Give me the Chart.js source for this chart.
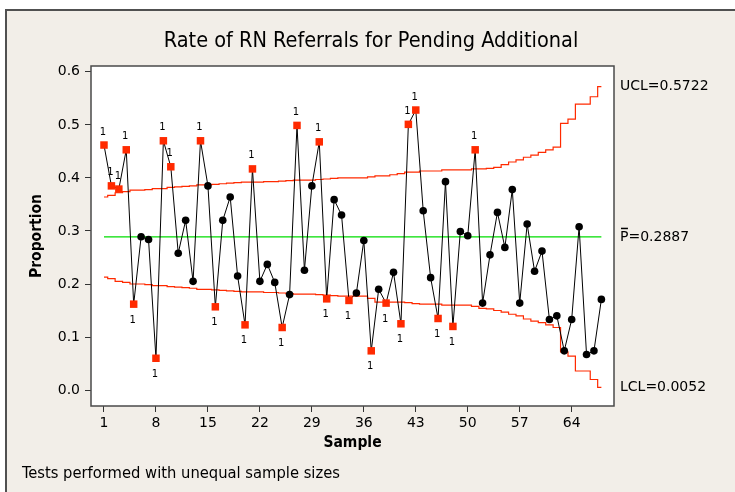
<!DOCTYPE html>
<html>
<head>
<meta charset="utf-8">
<script src="https://cdn.jsdelivr.net/npm/chart.js@4.4.0/dist/chart.umd.min.js"></script>
<style>
  html, body { margin: 0; padding: 0; background: #ffffff; }
  #frame {
    position: absolute; left: 5px; top: 9px; width: 740px; height: 500px;
    background: #f2eee8; border: 2px solid #505050;
  }
  #wrap { position: absolute; left: 0; top: 0; width: 735px; height: 492px; }
</style>
</head>
<body>
<div id="frame"></div>
<div id="wrap"><canvas id="myChart" width="735" height="492"></canvas></div>
<script>
// P chart values
const proportion = [
  0.462, 0.385, 0.379, 0.453, 0.162, 0.289, 0.284, 0.060, 0.470, 0.421,
  0.258, 0.320, 0.205, 0.470, 0.385, 0.157, 0.320, 0.364, 0.215, 0.123,
  0.417, 0.205, 0.237, 0.203, 0.118, 0.180, 0.499, 0.226, 0.385, 0.468,
  0.172, 0.359, 0.330, 0.169, 0.183, 0.282, 0.074, 0.190, 0.164, 0.222,
  0.125, 0.501, 0.528, 0.338, 0.212, 0.135, 0.393, 0.120, 0.299, 0.291,
  0.453, 0.164, 0.255, 0.335, 0.269, 0.378, 0.164, 0.313, 0.224, 0.262,
  0.133, 0.140, 0.074, 0.133, 0.308, 0.067, 0.074, 0.171
];

const ucl = [
  0.364, 0.367, 0.372, 0.374, 0.377, 0.377, 0.378, 0.380, 0.380, 0.382,
  0.383, 0.384, 0.385, 0.387, 0.387, 0.388, 0.389, 0.390, 0.391, 0.392,
  0.392, 0.392, 0.393, 0.393, 0.394, 0.395, 0.396, 0.396, 0.396, 0.397,
  0.398, 0.399, 0.400, 0.400, 0.400, 0.400, 0.402, 0.404, 0.404, 0.406,
  0.408, 0.411, 0.411, 0.413, 0.413, 0.413, 0.415, 0.415, 0.415, 0.415,
  0.417, 0.417, 0.418, 0.420, 0.425, 0.430, 0.434, 0.439, 0.443, 0.448,
  0.453, 0.458, 0.503, 0.511, 0.539, 0.539, 0.553, 0.572
];

const lcl = [
  0.213, 0.210, 0.205, 0.203, 0.200, 0.200, 0.199, 0.197, 0.197, 0.195,
  0.194, 0.193, 0.192, 0.190, 0.190, 0.189, 0.188, 0.187, 0.186, 0.185,
  0.185, 0.185, 0.184, 0.184, 0.183, 0.182, 0.181, 0.181, 0.181, 0.180,
  0.179, 0.178, 0.177, 0.177, 0.177, 0.177, 0.173, 0.166, 0.166, 0.166,
  0.166, 0.165, 0.163, 0.162, 0.162, 0.162, 0.160, 0.160, 0.160, 0.160,
  0.158, 0.154, 0.153, 0.150, 0.147, 0.143, 0.140, 0.134, 0.130, 0.127,
  0.123, 0.118, 0.072, 0.064, 0.036, 0.036, 0.020, 0.005
];

// samples failing test 1 (red squares)
const flagged = [1, 2, 3, 4, 5, 8, 9, 10, 14, 16, 20, 21, 25, 27, 30, 31, 34, 37, 39, 41, 42, 43, 46, 48, 51];

const pBar = 0.2887;
const xTicks = [1, 8, 15, 22, 29, 36, 43, 50, 57, 64];
const yTicks = [0.0, 0.1, 0.2, 0.3, 0.4, 0.5, 0.6];

// bar: draw an overline above the first letter (P-bar)
const limitLabels = [
  { value: 0.5722, text: 'UCL=0.5722', bar: false },
  { value: pBar, text: 'P=0.2887', bar: true },
  { value: 0.0052, text: 'LCL=0.0052', bar: false }
];

const chartTitle = 'Rate of RN Referrals for Pending Additional';
const footnote = 'Tests performed with unequal sample sizes';

const RED = '#ff2a00';
const FONT = 'DejaVu Sans';
const FONT_C = 'DejaVu Sans Condensed';

const samples = proportion.map((v, i) => i + 1);
const isFlagged = i => flagged.includes(i + 1);

const pointData = proportion.map((v, i) => ({ x: samples[i], y: v }));
const uclData = ucl.map((v, i) => ({ x: samples[i], y: v }));
const lclData = lcl.map((v, i) => ({ x: samples[i], y: v }));
const centerData = [{ x: samples[0], y: pBar }, { x: samples[samples.length - 1], y: pBar }];

// white plot area, frame, title, "1" flags, limit labels, footnote
const decorations = {
  id: 'decorations',
  beforeDatasetsDraw(chart) {
    const { ctx, chartArea: a } = chart;
    ctx.save();
    ctx.fillStyle = '#ffffff';
    ctx.fillRect(a.left, a.top, a.right - a.left, a.bottom - a.top);
    ctx.restore();
  },
  afterDraw(chart) {
    const { ctx, chartArea: a, scales } = chart;
    ctx.save();
    ctx.strokeStyle = '#4a4a4a';
    ctx.lineWidth = 1.5;
    ctx.strokeRect(a.left, a.top, a.right - a.left, a.bottom - a.top);

    ctx.fillStyle = '#000';
    ctx.textBaseline = 'middle';

    // title, centred on the whole figure
    ctx.font = '21.5px "' + FONT_C + '"';
    ctx.textAlign = 'center';
    ctx.fillText(chartTitle, 371, 41);

    // test failure labels
    ctx.font = '10px "' + FONT + '"';
    proportion.forEach((v, i) => {
      if (!isFlagged(i)) return;
      const px = scales.x.getPixelForValue(samples[i]);
      const py = scales.y.getPixelForValue(v);
      const above = v > pBar;
      ctx.fillText('1', px - 1, above ? py - 13 : py + 16);
    });

    // limit labels on the right
    ctx.font = '14px "' + FONT + '"';
    ctx.textAlign = 'left';
    ctx.strokeStyle = '#000';
    ctx.lineWidth = 1.5;
    limitLabels.forEach(l => {
      const ty = scales.y.getPixelForValue(l.value);
      const tx = a.right + 6;
      ctx.fillText(l.text, tx, ty);
      if (l.bar) {
        const w = ctx.measureText(l.text[0]).width;
        ctx.beginPath();
        ctx.moveTo(tx + 1, ty - 8.5);
        ctx.lineTo(tx + w - 0.5, ty - 8.5);
        ctx.stroke();
      }
    });

    // footnote
    ctx.font = '16.4px "' + FONT_C + '"';
    ctx.fillText(footnote, 22, 474);
    ctx.restore();
  }
};

const ctx = document.getElementById('myChart').getContext('2d');
const myChart = new Chart(ctx, {
  type: 'line',
  data: {
    datasets: [
      {
        label: 'Proportion',
        data: pointData,
        borderColor: '#000000',
        borderWidth: 1,
        pointStyle: pointData.map((p, i) => isFlagged(i) ? 'rect' : 'circle'),
        pointRadius: pointData.map((p, i) => isFlagged(i) ? 5.3 : 3.8),
        pointBackgroundColor: pointData.map((p, i) => isFlagged(i) ? RED : '#000000'),
        pointBorderColor: pointData.map((p, i) => isFlagged(i) ? RED : '#000000'),
        pointBorderWidth: 0,
        order: 0
      },
      {
        label: 'UCL',
        data: uclData,
        borderColor: RED,
        borderWidth: 1.2,
        stepped: 'middle',
        pointRadius: 0,
        order: 2
      },
      {
        label: 'LCL',
        data: lclData,
        borderColor: RED,
        borderWidth: 1.2,
        stepped: 'middle',
        pointRadius: 0,
        order: 2
      },
      {
        label: 'P',
        data: centerData,
        borderColor: '#00dd00',
        borderWidth: 1.2,
        pointRadius: 0,
        order: 3
      }
    ]
  },
  options: {
    responsive: false,
    animation: false,
    layout: { padding: { left: 0, right: 121, top: 66, bottom: 0 } },
    scales: {
      x: {
        type: 'linear',
        min: -0.75,
        max: 69.7,
        afterBuildTicks: scale => { scale.ticks = xTicks.map(v => ({ value: v })); },
        afterFit: scale => { scale.height = 86; },
        grid: { drawOnChartArea: false, drawTicks: true, tickLength: 6, color: '#333333' },
        border: { display: false },
        ticks: {
          color: '#000000',
          padding: 3,
          maxRotation: 0,
          font: { family: FONT, size: 14 }
        },
        title: {
          display: true,
          text: 'Sample',
          color: '#000000',
          padding: 40,
          font: { family: FONT_C, size: 15.5, weight: 'bold' }
        }
      },
      y: {
        min: -0.03,
        max: 0.611,
        afterBuildTicks: scale => { scale.ticks = yTicks.map(v => ({ value: v })); },
        afterFit: scale => { scale.width = 91; },
        grid: { drawOnChartArea: false, drawTicks: true, tickLength: 6, color: '#333333' },
        border: { display: false },
        ticks: {
          color: '#000000',
          padding: 5,
          font: { family: FONT, size: 14 },
          callback: v => v.toFixed(1)
        },
        title: {
          display: true,
          text: 'Proportion',
          color: '#000000',
          padding: { top: 28, bottom: 0 },
          font: { family: FONT_C, size: 15.5, weight: 'bold' }
        }
      }
    },
    plugins: {
      legend: { display: false },
      tooltip: { enabled: false },
      title: { display: false }
    }
  },
  plugins: [decorations]
});
</script>
</body>
</html>
